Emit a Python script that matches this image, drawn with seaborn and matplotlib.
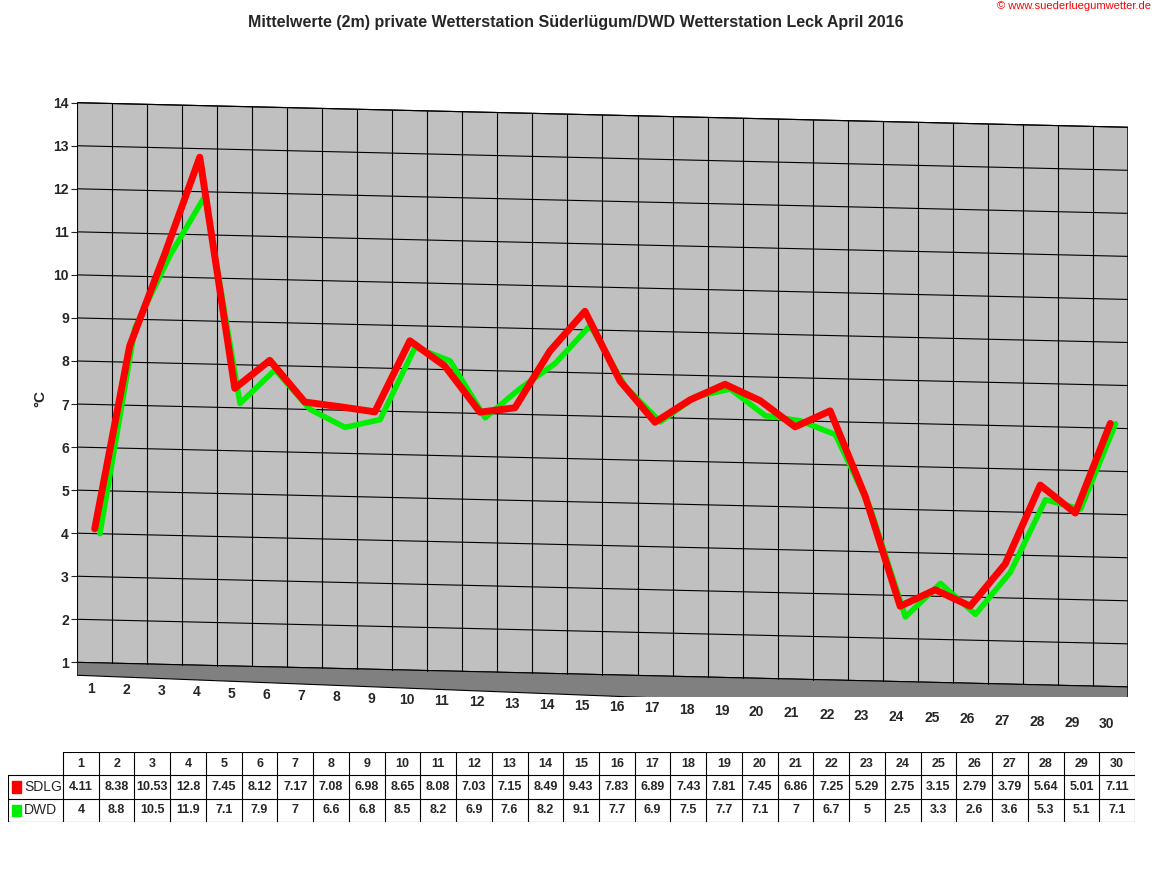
import matplotlib.pyplot as plt
import numpy as np
import seaborn as sns
from matplotlib.patches import Polygon, Rectangle

days = list(range(1, 31))
sdlg = [4.11, 8.38, 10.53, 12.8, 7.45, 8.12, 7.17, 7.08, 6.98, 8.65, 8.08, 7.03, 7.15, 8.49, 9.43,
        7.83, 6.89, 7.43, 7.81, 7.45, 6.86, 7.25, 5.29, 2.75, 3.15, 2.79, 3.79, 5.64, 5.01, 7.11]
dwd = [4, 8.8, 10.5, 11.9, 7.1, 7.9, 7, 6.6, 6.8, 8.5, 8.2, 6.9, 7.6, 8.2, 9.1,
       7.7, 6.9, 7.5, 7.7, 7.1, 7, 6.7, 5, 2.5, 3.3, 2.6, 3.6, 5.3, 5.1, 7.1]
sdlg_txt = ["4.11", "8.38", "10.53", "12.8", "7.45", "8.12", "7.17", "7.08", "6.98", "8.65", "8.08",
            "7.03", "7.15", "8.49", "9.43", "7.83", "6.89", "7.43", "7.81", "7.45", "6.86", "7.25",
            "5.29", "2.75", "3.15", "2.79", "3.79", "5.64", "5.01", "7.11"]
dwd_txt = ["4", "8.8", "10.5", "11.9", "7.1", "7.9", "7", "6.6", "6.8", "8.5", "8.2", "6.9", "7.6",
           "8.2", "9.1", "7.7", "6.9", "7.5", "7.7", "7.1", "7", "6.7", "5", "2.5", "3.3", "2.6",
           "3.6", "5.3", "5.1", "7.1"]

sns.set_style("white")
plt.rcParams['font.family'] = ['Liberation Sans', 'DejaVu Sans']

slant = 0.019  # perspective drop per day


def sl(x):
    return slant * (np.asarray(x) - 0.5)


fig = plt.figure(figsize=(11.52, 8.82), dpi=100)
ax = fig.add_axes([0.067, 0.21, 0.912, 0.676])
ax.set_xlim(0.5, 30.5)
ax.set_ylim(0.2, 14.05)

# back wall
wall = Polygon([(0.5, 1), (0.5, 14), (30.5, 14 - sl(30.5)), (30.5, 1 - sl(30.5))],
               facecolor="#c0c0c0", edgecolor="black", lw=0.8, zorder=0)
ax.add_patch(wall)
# floor
floor = Polygon([(0.5, 1), (30.5, 1 - sl(30.5)), (30.5, 0.6 - 1.5 * sl(30.5)), (0.5, 0.7)],
                facecolor="#808080", edgecolor="black", lw=0.8, zorder=0)
ax.add_patch(floor)
for v in range(2, 15):
    ax.plot([0.5, 30.5], [v, v - sl(30.5)], color="black", lw=0.8, zorder=1)
for d in np.arange(0.5, 31.5, 1):
    ax.plot([d, d], [1 - sl(d), 14 - sl(d)], color="black", lw=0.8, zorder=1)

x = np.array(days)
sns.lineplot(x=x + 0.15, y=np.array(dwd) - sl(x), color="#00ee00", lw=4, ax=ax, zorder=3)
sns.lineplot(x=x, y=np.array(sdlg) - sl(x), color="#ff0000", lw=5, ax=ax, zorder=4)

sns.despine(ax=ax, left=True, bottom=True)
ax.set_yticks(range(1, 15))
ax.set_yticklabels([str(v) for v in range(1, 15)], fontsize=10, fontweight="bold")
ax.tick_params(axis="y", length=4, width=0.8, left=True, pad=2)
ax.set_xticks([])
for d in days:
    ax.text(d - 0.1, 0.4 - 1.5 * sl(d), str(d), ha="center", va="center", fontsize=10, fontweight="bold")
ax.set_ylabel("°C", fontsize=11, fontweight="bold")

fig.text(0.5, 0.975, "Mittelwerte (2m) private Wetterstation Süderlügum/DWD Wetterstation Leck April 2016",
         ha="center", va="center", fontsize=11.5, fontweight="bold")
fig.text(0.999, 0.993, "© www.suederluegumwetter.de", ha="right", va="center", fontsize=8, color="red")

# data table
tx = fig.add_axes([8 / 1152, 1 - 822 / 882, (1135 - 8) / 1152, 70 / 882])
tx.set_xlim(0, 1127)
tx.set_ylim(3, 0)
tx.axis("off")
lw0 = 55
cw = (1127 - lw0) / 30
tx.plot([lw0, 1127], [0, 0], color="black", lw=0.8)
for r in (1, 2, 3):
    tx.plot([0, 1127], [r, r], color="black", lw=0.8)
tx.plot([0, 0], [1, 3], color="black", lw=0.8)
for i in range(31):
    tx.plot([lw0 + i * cw] * 2, [0, 3], color="black", lw=0.8)
for i in range(30):
    cx = lw0 + (i + 0.5) * cw
    tx.text(cx, 0.5, str(days[i]), ha="center", va="center", fontsize=9, fontweight="bold")
    tx.text(cx, 1.5, sdlg_txt[i], ha="center", va="center", fontsize=9, fontweight="bold")
    tx.text(cx, 2.5, dwd_txt[i], ha="center", va="center", fontsize=9, fontweight="bold")
for r, (name, col) in enumerate([("SDLG", "red"), ("DWD", "#00ee00")]):
    tx.add_patch(Rectangle((4, 1.25 + r), 9, 0.5, color=col))
    tx.text(16, 1.5 + r, name, ha="left", va="center", fontsize=10)

fig.savefig("out.png", dpi=100)
